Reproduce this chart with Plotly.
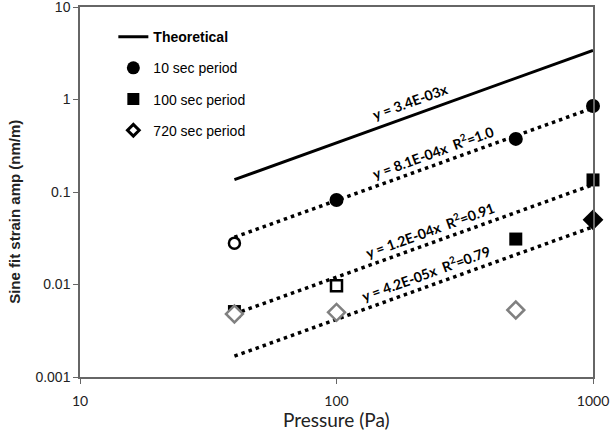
import math
import plotly.graph_objects as go

# ---- data ----
pressure_fit = [40, 1000]
slope_theory = 3.4e-3
slope_10 = 8.1e-4
slope_100 = 1.2e-4
slope_720 = 4.2e-5

x_10 = [40, 100, 500, 1000]
y_10 = [0.028, 0.082, 0.375, 0.85]
open_10 = [True, False, False, False]

x_100 = [40, 100, 500, 1000]
y_100 = [0.0051, 0.0097, 0.031, 0.135]
open_100 = [False, True, False, False]

x_720 = [40, 100, 500, 1000]
y_720 = [0.0048, 0.0050, 0.0053, 0.050]
open_720 = [True, True, True, False]

fit_slopes = [slope_theory, slope_10, slope_100, slope_720]
fit_labels = ["y = 3.4E-03x",
              "y = 8.1E-04x\u00a0\u00a0R<sup>2</sup>=1.0",
              "y = 1.2E-04x\u00a0\u00a0R<sup>2</sup>=0.91",
              "y = 4.2E-05x\u00a0\u00a0R<sup>2</sup>=0.79"]
label_x = [200, 245, 237, 230]

x_ticks = [10, 100, 1000]
y_ticks = [0.001, 0.01, 0.1, 1, 10]
y_ticktext = ["0.001", "0.01", "0.1", "1", "10"]

fig = go.Figure()

def sel(xs, ys, flags, want):
    return ([x for x, f in zip(xs, flags) if f == want],
            [y for y, f in zip(ys, flags) if f == want])

# theoretical line
fig.add_trace(go.Scatter(x=pressure_fit, y=[slope_theory * p for p in pressure_fit],
                         mode="lines", line=dict(color="black", width=3),
                         showlegend=False, hoverinfo="skip"))
# fit lines
for s in [slope_10, slope_100, slope_720]:
    fig.add_trace(go.Scatter(x=pressure_fit, y=[s * p for p in pressure_fit],
                             mode="lines", line=dict(color="black", width=3.5, dash="3.5px,4px"),
                             showlegend=False, hoverinfo="skip"))

def markers(xs, ys, **m):
    fig.add_trace(go.Scatter(x=xs, y=ys, mode="markers", showlegend=False,
                             cliponaxis=False, marker=m))

# 10 sec
xf, yf = sel(x_10, y_10, open_10, False)
markers(xf, yf, symbol="circle", size=14, color="black")
xo, yo = sel(x_10, y_10, open_10, True)
markers(xo, yo, symbol="circle", size=11, color="white", line=dict(color="black", width=2.5))
# 100 sec
xf, yf = sel(x_100, y_100, open_100, False)
markers(xf, yf, symbol="square", size=13, color="black")
xo, yo = sel(x_100, y_100, open_100, True)
markers(xo, yo, symbol="square", size=11, color="white", line=dict(color="black", width=2.5))
# 720 sec
xf, yf = sel(x_720, y_720, open_720, False)
markers(xf, yf, symbol="diamond", size=16, color="black")
xo, yo = sel(x_720, y_720, open_720, True)
markers(xo, yo, symbol="diamond", size=13, color="white", line=dict(color="#808080", width=2.5))

# legend entries
fig.add_trace(go.Scatter(x=[None], y=[None], mode="lines", name="<b>Theoretical</b>",
                         legendgroup="a", line=dict(color="black", width=3)))
fig.add_trace(go.Scatter(x=[None], y=[None], mode="markers", name="10 sec period",
                         legendgroup="b", marker=dict(symbol="circle", size=13, color="black")))
fig.add_trace(go.Scatter(x=[None], y=[None], mode="markers", name="100 sec period",
                         legendgroup="c", marker=dict(symbol="square", size=12, color="black")))
fig.add_trace(go.Scatter(x=[None], y=[None], mode="markers", name="720 sec period",
                         legendgroup="d", marker=dict(symbol="diamond", size=9, color="white",
                                                      line=dict(color="black", width=3))))

for t, lx, s in zip(fit_labels, label_x, fit_slopes):
    fig.add_annotation(x=math.log10(lx), y=math.log10(s * lx), xref="x", yref="y",
                       text="<b>" + t + "</b>", yshift=13, xshift=-3,
                       showarrow=False, textangle=-20,
                       font=dict(family="Lato", size=14, color="black"))

# axis titles
fig.add_annotation(x=0.5, y=-0.116, xref="paper", yref="paper", xanchor="center", yanchor="middle",
                   text="Pressure\u00a0(Pa)", showarrow=False,
                   font=dict(family="Lato", size=19, color="#222"))
fig.add_annotation(x=-0.127, y=0.446, xref="paper", yref="paper", xanchor="center", yanchor="middle",
                   text="<b>Sine fit strain amp (nm/m)</b>", showarrow=False, textangle=-90,
                   font=dict(family="Arial, Liberation Sans", size=15, color="#222"))

fig.update_layout(
    width=612, height=434,
    margin=dict(l=80, r=19, t=7, b=57),
    paper_bgcolor="white", plot_bgcolor="white",
    font=dict(family="Arial, Liberation Sans", color="#222"),
    showlegend=True,
    legend=dict(x=0.065, y=0.962, xanchor="left", yanchor="top",
                bgcolor="rgba(0,0,0,0)", font=dict(size=14, color="black"),
                traceorder="grouped", tracegroupgap=10),
)
fig.update_xaxes(type="log", range=[1, 3], tickvals=x_ticks, ticktext=[str(v) for v in x_ticks],
                 showgrid=False, zeroline=False, showline=True, linecolor="#666", linewidth=1.5,
                 mirror=True, ticks="outside", ticklen=5, tickcolor="#666", automargin=False,
                 ticklabelstandoff=5, ticklabeloverflow="allow",
                 tickfont=dict(family="Lato", size=14, color="#222"))
fig.update_yaxes(type="log", range=[-3, 1], tickvals=y_ticks, ticktext=y_ticktext,
                 showgrid=False, zeroline=False, showline=True, linecolor="#666", linewidth=1.5,
                 mirror=True, ticks="outside", ticklen=5, tickcolor="#666", automargin=False,
                 ticklabeloverflow="allow",
                 tickfont=dict(family="Arial, Liberation Sans", size=14, color="#222"))

fig.write_html("out.html")
